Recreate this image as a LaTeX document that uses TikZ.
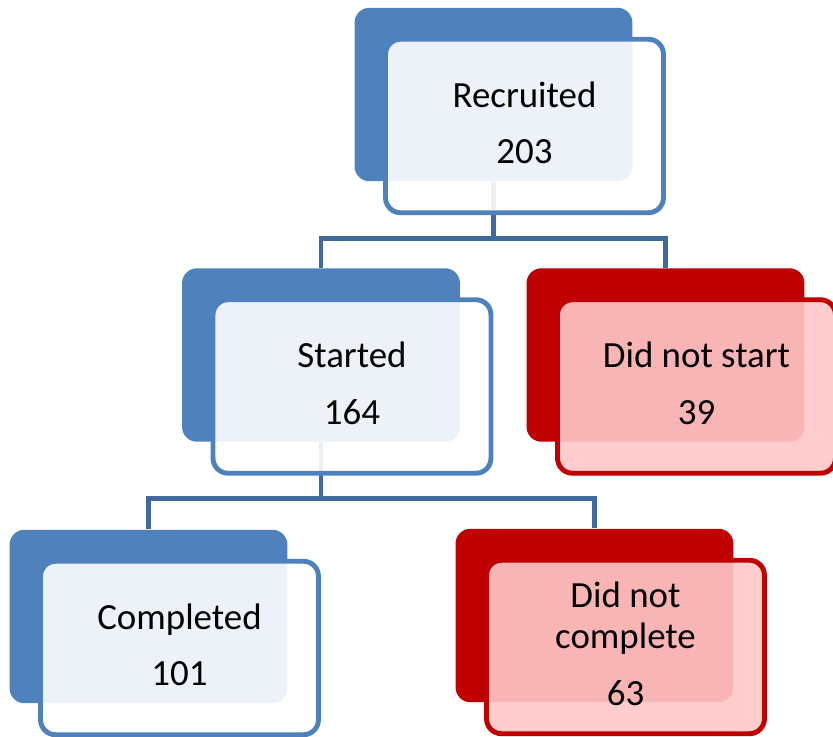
\documentclass[tikz,border=0pt]{standalone}
\usepackage{fontspec}
\setmainfont{Carlito}
\usetikzlibrary{positioning,backgrounds}
\definecolor{BaseBlue}{HTML}{4F81BD}
\definecolor{LinkBlue}{HTML}{41699D}
\definecolor{BaseRed}{HTML}{C00000}
\definecolor{CardRed}{HTML}{FFC8C8}

\begin{document}
\begin{tikzpicture}[x=0.02cm,y=-0.02cm,
  base/.style={rounded corners=0.3cm,minimum width=5.56cm,minimum height=3.47cm,inner sep=0pt},
  bluebase/.style={base,fill=BaseBlue},
  redbase/.style={base,fill=BaseRed},
  card/.style={base,xshift=0.62cm,yshift=-0.63cm,line width=2.8pt,fill opacity=0.9,text opacity=1,
    align=center,font=\fontsize{21}{23.2}\selectfont,
    execute at end node={\rule[-0.13cm]{0pt}{0pt}}},
  bluecard/.style={card,draw=BaseBlue,fill=white},
  redcard/.style={card,draw=BaseRed,fill=CardRed,fill opacity=0.91},
  link/.style={draw=LinkBlue,line width=2.8pt}]
  \useasboundingbox (0,0) rectangle (833,737);

  % top level
  \node[bluebase] (rec) at (493.5,94.5) {};
  \node[bluecard] (recT) at (rec) {Recruited\\[9pt]203};

  % second level
  \node[bluebase] (sta) at (321,355) {};
  \node[bluecard] (staT) at (sta) {Started\\[9pt]164};
  \node[redbase] (dns) at (665.5,355) {};
  \node[redcard] (dnsT) at (dns) {Did not start\\[9pt]39};

  % third level
  \node[bluebase] (com) at (148.5,616.5) {};
  \node[bluecard] (comT) at (com) {Completed\\[9pt]101};
  \node[redbase] (dnc) at (594.5,615.5) {};
  \node[redcard] (dncT) at (dnc) {Did not\\complete\\[9pt]63};

  \begin{scope}[on background layer]
    \draw[link] (rec.south) -- ++(0,57) coordinate (bus1);
    \draw[link] (sta.north) |- (bus1) -| (dns.north);
    \draw[link] (sta.south) -- ++(0,56) coordinate (bus2);
    \draw[link] (com.north) |- (bus2) -| (dnc.north);
  \end{scope}
\end{tikzpicture}
\end{document}
